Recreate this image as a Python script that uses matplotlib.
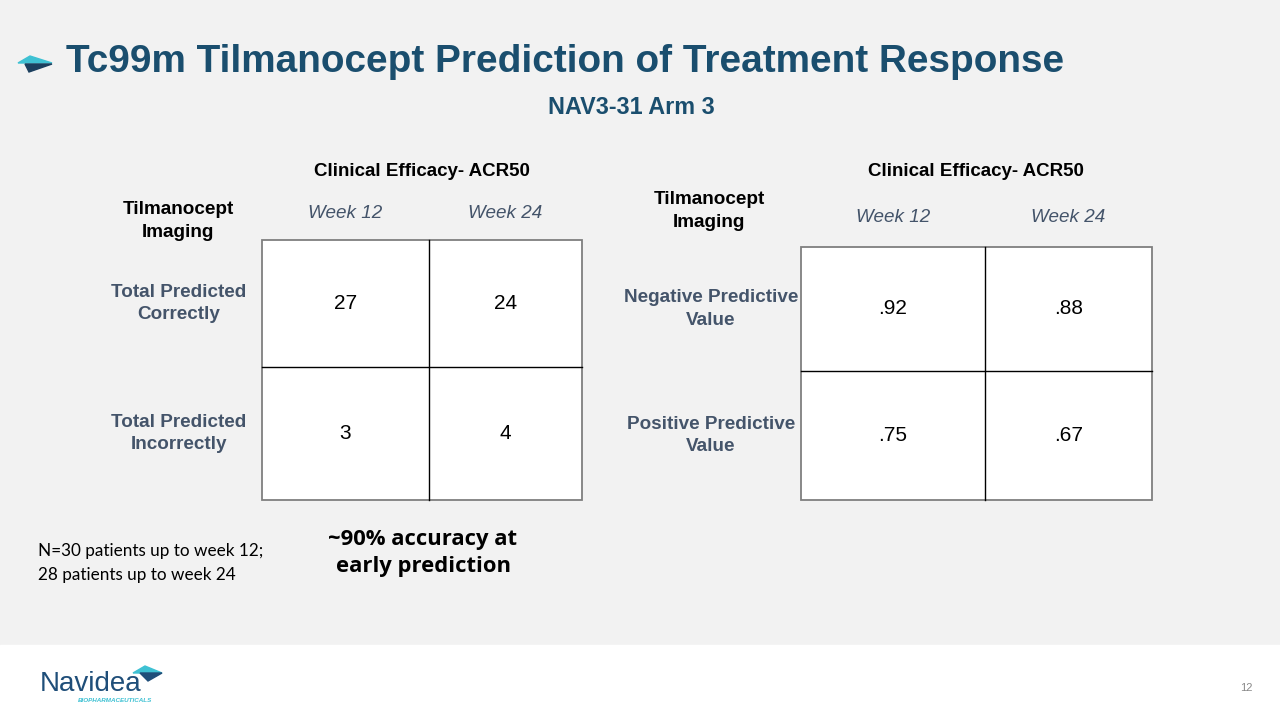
import matplotlib.pyplot as plt
from matplotlib.patches import Rectangle, Polygon

plt.rcParams['font.family'] = ['Liberation Sans', 'DejaVu Sans']

# Données des deux tableaux
weeks = ["Week 12", "Week 24"]
left_rows = ["Total Predicted\nCorrectly", "Total Predicted\nIncorrectly"]
left_values = [["27", "24"], ["3", "4"]]
right_rows = ["Negative Predictive\nValue", "Positive Predictive\nValue"]
right_values = [[".92", ".88"], [".75", ".67"]]

navy = "#1A4E6E"
slate = "#44546A"

fig = plt.figure(figsize=(12.8, 7.2), dpi=100)
ax = fig.add_axes([0, 0, 1, 1])
ax.set_xlim(0, 1280)
ax.set_ylim(720, 0)
ax.axis("off")

# fond gris et pied de page blanc
ax.add_patch(Rectangle((0, 0), 1280, 645, color="#F2F2F2", zorder=0))
ax.add_patch(Rectangle((0, 645), 1280, 75, color="white", zorder=0))

# petite flèche du titre
ax.add_patch(Polygon([[18, 63], [30, 56], [52, 63]], color="#3EC1D3"))
ax.add_patch(Polygon([[25, 64], [52, 64], [29, 72]], color="#1B3F5E"))

ax.text(66, 62, "Tc99m Tilmanocept Prediction of Treatment Response", fontsize=27.9,
        fontweight="bold", color=navy, va="center", ha="left")
ax.text(631, 107, "NAV3-31 Arm 3", fontsize=16.8, fontweight="bold", color=navy,
        va="center", ha="center")


def draw_table(x0, xm, x1, y0, ym, y1, values, rows, head_x, head_y, lab_x, lab_y,
               week_y, row_x):
    # cellules blanches
    ax.add_patch(Rectangle((x0, y0), x1 - x0, y1 - y0, facecolor="white",
                           edgecolor="#7F7F7F", lw=1.3, zorder=1))
    ax.plot([xm, xm], [y0, y1], color="black", lw=1, zorder=2)
    ax.plot([x0, x1], [ym, ym], color="black", lw=1, zorder=2)
    ax.text(head_x, head_y, "Clinical Efficacy- ACR50", fontsize=13.5, fontweight="bold",
            ha="center", va="center")
    ax.text(lab_x, lab_y, "Tilmanocept\nImaging", fontsize=13.6, fontweight="bold",
            ha="center", va="center", linespacing=1.4)
    xs = [(x0 + xm) / 2, (xm + x1) / 2]
    ys = [(y0 + ym) / 2, (ym + y1) / 2]
    for j, w in enumerate(weeks):
        ax.text(xs[j], week_y, w, fontsize=13.6, style="italic", color=slate,
                ha="center", va="center")
    for i, r in enumerate(rows):
        ax.text(row_x, ys[i], r, fontsize=13.6, fontweight="bold", color=slate,
                ha="center", va="center", linespacing=1.4)
        for j in range(2):
            ax.text(xs[j], ys[i], values[i][j], fontsize=15, ha="center", va="center",
                    zorder=3)


draw_table(262, 429, 582, 240, 367, 500, left_values, left_rows,
           422, 171, 178, 221, 213, 179)
draw_table(801, 985, 1152, 247, 371, 500, right_values, right_rows,
           976, 171, 709, 211, 218, 711)

ax.text(38, 563, "N=30 patients up to week 12;\n28 patients up to week 24", fontsize=12.3,
        family=["Lato", "DejaVu Sans"], ha="left", va="center", linespacing=1.55)
ax.text(423, 553, "~90% accuracy at\nearly prediction", fontsize=15.8, fontweight="bold",
        family=["Open Sans", "DejaVu Sans"], ha="center", va="center", linespacing=1.4)

# logo Navidea
ax.text(40, 684, "Navidea", fontsize=20, color="#1F4E79", ha="left", va="center")
ax.add_patch(Polygon([[133, 673], [145, 666], [162, 673]], color="#3EC1D3"))
ax.add_patch(Polygon([[140, 673], [162, 673], [148, 681]], color="#1F4E79"))
ax.text(78, 701, "BIOPHARMACEUTICALS", fontsize=4.5, style="italic", fontweight="bold",
        color="#3EC1D3", ha="left", va="center")
ax.text(1246, 688, "12", fontsize=8, color="#888888", ha="center", va="center")

fig.savefig("out.png", dpi=100)
